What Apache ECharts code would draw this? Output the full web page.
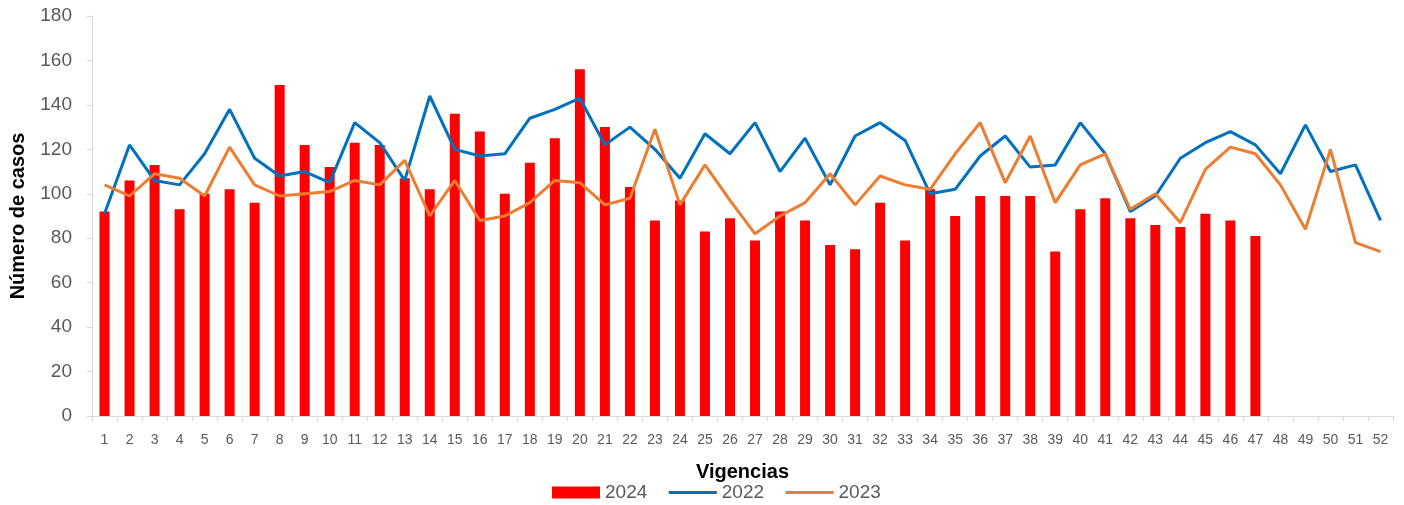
<!DOCTYPE html>
<html>
<head>
<meta charset="utf-8">
<script src="https://cdn.jsdelivr.net/npm/echarts@6/dist/echarts.min.js"></script>
<style>
html,body{margin:0;padding:0;background:#fff;}
#chart{width:1404px;height:505px;}
</style>
</head>
<body>
<div id="chart"></div>
<script>
const weeks = Array.from({length: 52}, (_, i) => String(i + 1));
const s2024 = [92,106,113,93,100,102,96,149,122,112,123,122,107,102,136,128,100,114,125,156,130,103,88,97,83,89,79,92,88,77,75,96,79,102,90,99,99,99,74,93,98,89,86,85,91,88,81];
const s2022 = [91,122,106,104,118,138,116,108,110,105,132,123,106,144,120,117,118,134,138,143,122,130,120,107,127,118,132,110,125,104,126,132,124,100,102,117,126,112,113,132,118,92,99,116,123,128,122,109,131,110,113,88];
const s2023 = [104,99,109,107,99,121,104,99,100,101,106,104,115,90,106,88,90,96,106,105,95,98,129,95,113,97,82,90,96,109,95,108,104,102,118,132,105,126,96,113,118,93,100,87,111,121,118,104,84,120,78,74];
const yTicks = {min: 0, max: 180, interval: 20};

const font = 'Liberation Sans';
const chart = echarts.init(document.getElementById('chart'), null, {renderer: 'canvas'});
chart.setOption({
  animation: false,
  textStyle: {fontFamily: font},
  grid: {left: 92, right: 11, top: 16, bottom: 89, containLabel: false},
  legend: {
    left: 552, top: 483, padding: 0, itemGap: 20,
    itemWidth: 48, itemHeight: 12,
    textStyle: {fontSize: 19, color: '#595959', fontFamily: font},
    data: [
      {name: '2024', icon: 'rect'},
      {name: '2022', itemStyle: {opacity: 0}, lineStyle: {width: 3, color: '#0070C0'}},
      {name: '2023', itemStyle: {opacity: 0}, lineStyle: {width: 3, color: '#ED7D31'}}
    ]
  },
  xAxis: {
    type: 'category', data: weeks, boundaryGap: true,
    name: 'Vigencias', nameLocation: 'middle', nameGap: 46,
    nameTextStyle: {fontSize: 20, fontWeight: 'bold', color: '#000', fontFamily: font},
    axisLine: {lineStyle: {color: '#d9d9d9', width: 1}},
    axisTick: {show: true, length: 5, lineStyle: {color: '#d9d9d9'}},
    axisLabel: {fontSize: 14, color: '#595959', margin: 17, interval: 0, fontFamily: font}
  },
  yAxis: {
    type: 'value', min: yTicks.min, max: yTicks.max, interval: yTicks.interval,
    name: 'Número de casos', nameLocation: 'middle', nameGap: 64, nameRotate: 90,
    nameTextStyle: {fontSize: 20, fontWeight: 'bold', color: '#000', fontFamily: font},
    axisLine: {show: true, lineStyle: {color: '#d9d9d9', width: 1}},
    axisTick: {show: true, length: 5, lineStyle: {color: '#d9d9d9'}},
    axisLabel: {fontSize: 19, color: '#595959', margin: 20, fontFamily: font},
    splitLine: {show: false}
  },
  series: [
    {name: '2024', type: 'bar', data: s2024, barWidth: 10,
     itemStyle: {color: '#FF0000'}, z: 1},
    {name: '2022', type: 'line', data: s2022, symbol: 'none',
     lineStyle: {color: '#0070C0', width: 3}, itemStyle: {color: '#0070C0'}, z: 2},
    {name: '2023', type: 'line', data: s2023, symbol: 'none',
     lineStyle: {color: '#ED7D31', width: 3}, itemStyle: {color: '#ED7D31'}, z: 3}
  ]
});
</script>
</body>
</html>
